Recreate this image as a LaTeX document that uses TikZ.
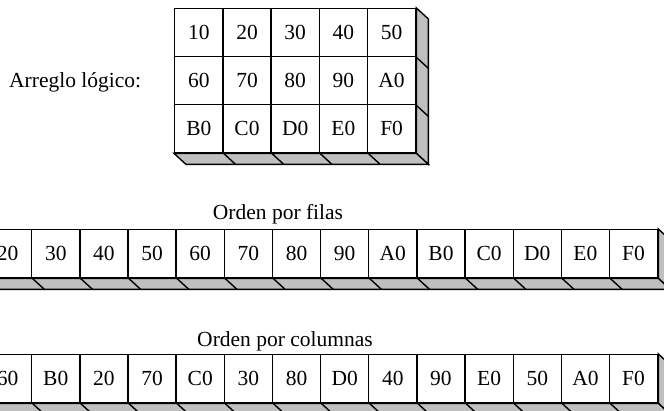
\documentclass[tikz,border=0pt]{standalone}
\usepackage{fontspec}
\setmainfont{Liberation Serif}
\begin{document}
\begin{tikzpicture}[x=1pt,y=-1pt,
  cell/.style={draw, line width=1.4pt, fill=white, minimum width=48.2pt, minimum height=48pt,
    inner sep=0pt, anchor=north west, font=\fontsize{21.5}{25}\selectfont},
  scell/.style={cell, minimum width=48.15pt},
  side/.style={draw, fill=black!25, line width=1.4pt, line join=miter},
  divider/.style={draw, line width=1.4pt},
  lbl/.style={inner sep=0pt, font=\fontsize{21.5}{25}\selectfont}]
\useasboundingbox (0,0) rectangle (664,411);
\clip (0,0) rectangle (664,411);
% ---------- logical array ----------
\foreach \row [count=\r] in {{10,20,30,40,50},{60,70,80,90,A0},{B0,C0,D0,E0,F0}}{
  \foreach \t [count=\c] in \row {
    \node[cell] (g-\r-\c) at ({174+48.2*(\c-1)},{8+48*(\r-1)}) {\t};
  }
}
\path[side] (g-1-5.north east) -- ++(12,11) -- ([shift={(12,11)}]g-3-5.south east) -- (g-3-5.south east) -- cycle;
\path[side] (g-3-1.south west) -- ++(12,11) -- ([shift={(12,11)}]g-3-5.south east) -- (g-3-5.south east) -- cycle;
\foreach \r in {1,2}{ \path[divider] (g-\r-5.south east) -- ++(12,11); }
\foreach \c in {1,...,4}{ \path[divider] (g-3-\c.south east) -- ++(12,11); }
\node[lbl, anchor=base west] (arr) at (9,88) {Arreglo lógico:};
% ---------- row-major ----------
\node[lbl, anchor=base] (tf) at (278,220) {Orden por filas};
\foreach \t [count=\i] in {10,20,30,40,50,60,70,80,90,A0,B0,C0,D0,E0,F0}{
  \node[scell] (f\i) at ({-65.3+48.15*(\i-1)},229) {\t};
}
\path[side] (f15.north east) -- ++(12,11) -- ([shift={(12,11)}]f15.south east) -- (f15.south east) -- cycle;
\path[side] (f1.south west) -- ++(12,11) -- ([shift={(12,11)}]f15.south east) -- (f15.south east) -- cycle;
\foreach \i in {1,...,14}{ \path[divider] (f\i.south east) -- ++(12,11); }
% ---------- column-major ----------
\node[lbl, anchor=base] (tc) at (285,347) {Orden por columnas};
\foreach \t [count=\i] in {10,60,B0,20,70,C0,30,80,D0,40,90,E0,50,A0,F0}{
  \node[scell] (k\i) at ({-65.3+48.15*(\i-1)},354) {\t};
}
\path[side] (k15.north east) -- ++(12,11) -- ([shift={(12,11)}]k15.south east) -- (k15.south east) -- cycle;
\path[side] (k1.south west) -- ++(12,11) -- ([shift={(12,11)}]k15.south east) -- (k15.south east) -- cycle;
\foreach \i in {1,...,14}{ \path[divider] (k\i.south east) -- ++(12,11); }
\end{tikzpicture}
\end{document}
